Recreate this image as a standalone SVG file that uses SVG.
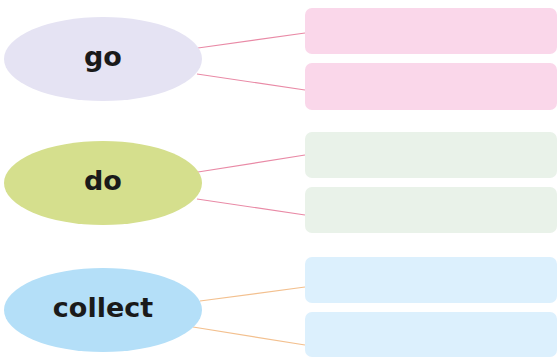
<svg xmlns="http://www.w3.org/2000/svg" width="558" height="360" viewBox="0 0 558 360">
<style>
.lbl{font-family:"DejaVu Sans","Liberation Sans",sans-serif;font-weight:bold;font-size:27px;fill:#1a1a1a;text-anchor:middle}
.c1{stroke:#e98aa6;stroke-width:1.2;fill:none}
.c2{stroke:#f3c08f;stroke-width:1.2;fill:none}
.pk{fill:#fad7ea}
.gr{fill:#e9f2e9}
.bl{fill:#dcf0fd}
</style>
<rect width="558" height="360" fill="#ffffff"/>
<g id="connectors">
<line class="c1" x1="198" y1="48" x2="305" y2="33"/>
<line class="c1" x1="197" y1="74" x2="305" y2="90"/>
<line class="c1" x1="198" y1="172" x2="305" y2="155"/>
<line class="c1" x1="197" y1="199" x2="305" y2="215"/>
<line class="c2" x1="200" y1="301" x2="305" y2="287"/>
<line class="c2" x1="193" y1="327" x2="305" y2="345"/>
</g>
<g id="node-go"><ellipse cx="103" cy="59" rx="99" ry="42" fill="#e5e3f3"/><text class="lbl" x="103" y="66">go</text></g>
<g id="node-do"><ellipse cx="103" cy="183" rx="99" ry="42" fill="#d5df8d"/><text class="lbl" x="103" y="190">do</text></g>
<g id="node-collect"><ellipse cx="103" cy="310" rx="99" ry="42" fill="#b4dff8"/><text class="lbl" x="103" y="317">collect</text></g>
<g id="box-go-1"><rect class="pk" x="305" y="8" width="252" height="46" rx="7"/></g>
<g id="box-go-2"><rect class="pk" x="305" y="63" width="252" height="47" rx="7"/></g>
<g id="box-do-1"><rect class="gr" x="305" y="132" width="252" height="46" rx="7"/></g>
<g id="box-do-2"><rect class="gr" x="305" y="187" width="252" height="46" rx="7"/></g>
<g id="box-collect-1"><rect class="bl" x="305" y="257" width="252" height="46" rx="7"/></g>
<g id="box-collect-2"><rect class="bl" x="305" y="312" width="252" height="45" rx="7"/></g>
</svg>
